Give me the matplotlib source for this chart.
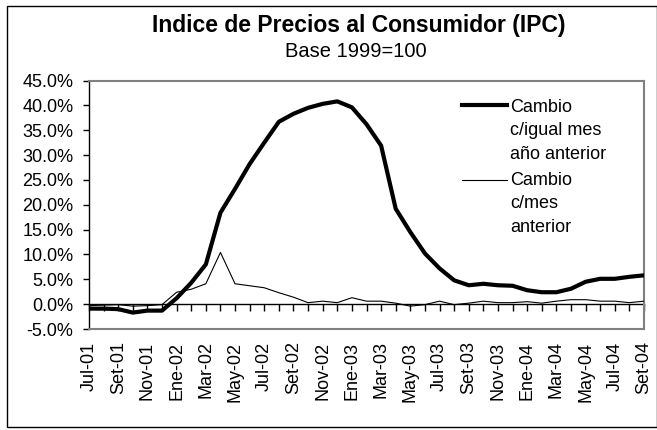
import matplotlib
matplotlib.use("Agg")
import matplotlib.pyplot as plt
from matplotlib.patches import Rectangle
import numpy as np

plt.rcParams['font.family'] = ['Liberation Sans', 'DejaVu Sans']

# months Jul-01 .. Set-04
meses = ['Jul-01', 'Ago-01', 'Set-01', 'Oct-01', 'Nov-01', 'Dic-01',
         'Ene-02', 'Feb-02', 'Mar-02', 'Abr-02', 'May-02', 'Jun-02',
         'Jul-02', 'Ago-02', 'Set-02', 'Oct-02', 'Nov-02', 'Dic-02',
         'Ene-03', 'Feb-03', 'Mar-03', 'Abr-03', 'May-03', 'Jun-03',
         'Jul-03', 'Ago-03', 'Set-03', 'Oct-03', 'Nov-03', 'Dic-03',
         'Ene-04', 'Feb-04', 'Mar-04', 'Abr-04', 'May-04', 'Jun-04',
         'Jul-04', 'Ago-04', 'Set-04']

# change vs same month previous year (%)
interanual = [-0.9, -0.9, -1.0, -1.7, -1.3, -1.3,
              1.2, 4.3, 8.0, 18.4, 23.2, 28.2,
              32.5, 36.7, 38.3, 39.5, 40.3, 40.8,
              39.6, 36.2, 31.9, 19.2, 14.5, 10.2,
              7.2, 4.8, 3.8, 4.1, 3.8, 3.7,
              2.8, 2.4, 2.4, 3.1, 4.5, 5.1,
              5.1, 5.5, 5.8]

# change vs previous month (%)
mensual = [-0.3, -0.2, -0.1, -0.4, -0.3, -0.1,
           2.4, 3.0, 4.1, 10.4, 4.1, 3.7,
           3.3, 2.3, 1.4, 0.3, 0.6, 0.3,
           1.3, 0.6, 0.6, 0.2, -0.4, -0.1,
           0.6, -0.1, 0.2, 0.6, 0.3, 0.3,
           0.5, 0.2, 0.6, 0.9, 0.9, 0.6,
           0.6, 0.3, 0.6]

W, H = 657, 430
fig = plt.figure(figsize=(W / 100, H / 100), dpi=100)

x0, x1, ytop, ybot = 89, 644, 80.5, 329
ax = fig.add_axes([x0 / W, 1 - ybot / H, (x1 - x0) / W, (ybot - ytop) / H])

x = np.arange(len(meses))
ax.plot(x, interanual, color='black', lw=3.0, solid_joinstyle='round', zorder=4)
ax.plot(x, mensual, color='black', lw=0.8, zorder=3)

ax.set_xlim(0, len(meses) - 1)
ax.set_ylim(-5, 45)
ax.set_yticks(np.arange(-5, 46, 5))
ax.set_yticklabels(['%.1f%%' % v for v in np.arange(-5, 46, 5)], fontsize=13)
ax.tick_params(axis='y', direction='out', length=4.3, width=1, pad=7, color='black')

ax.set_xticks(x[::2])
ax.set_xticklabels(meses[::2], rotation=90, fontsize=13)
ax.tick_params(axis='x', length=0, pad=9)

for s in ['top', 'right', 'bottom']:
    ax.spines[s].set_color('#808080')
    ax.spines[s].set_linewidth(1.5)
ax.spines['left'].set_color('black')
ax.spines['left'].set_linewidth(1)

# category axis crossing at zero
sec = ax.secondary_xaxis(0.1)
sec.set_xticks(x)
sec.set_xticklabels([])
sec.tick_params(direction='out', length=4.8, width=1, color='black')
sec.spines['bottom'].set_color('black')
sec.spines['bottom'].set_linewidth(1)

# legend drawn by hand (handle at first text line)
def fy(py):
    return (ybot - py) / (ybot - ytop)

def fx(px):
    return (px - x0) / (x1 - x0)

ax.plot([fx(462), fx(507)], [fy(105), fy(105)], color='black', lw=3.0,
        transform=ax.transAxes, clip_on=False)
ax.plot([fx(462), fx(507)], [fy(180), fy(180)], color='black', lw=0.8,
        transform=ax.transAxes, clip_on=False)
leg_lineas = ['Cambio', 'c/igual mes', 'año anterior', 'Cambio', 'c/mes', 'anterior']
leg_base = [111.7, 135.2, 158.6, 185.0, 208.5, 232.5]
for t, b in zip(leg_lineas, leg_base):
    ax.text(fx(510), fy(b), t, fontsize=13, va='baseline', ha='left',
            transform=ax.transAxes)

fig.text(359 / W, 1 - 32 / H, 'Indice de Precios al Consumidor (IPC)',
         fontsize=16.5, fontweight='bold', ha='center', va='baseline')
fig.text(356 / W, 1 - 57.3 / H, 'Base 1999=100', fontsize=14.5,
         ha='center', va='baseline')

fig.patches.append(Rectangle((6.5 / W, 1 - 427 / H), 650 / W, 421.5 / H,
                             transform=fig.transFigure, fill=False,
                             edgecolor='black', lw=1))

fig.savefig('out.png', dpi=100)
